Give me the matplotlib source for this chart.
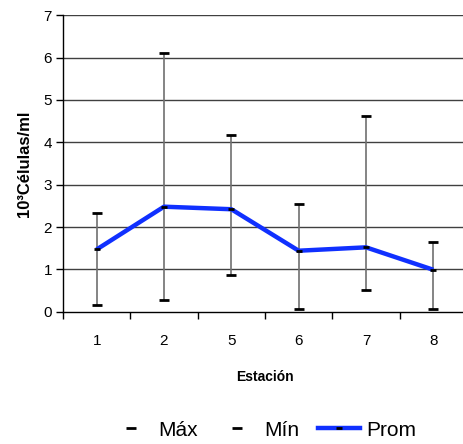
import matplotlib
matplotlib.use("Agg")
import matplotlib.pyplot as plt
from matplotlib.lines import Line2D
import numpy as np

plt.rcParams['font.family'] = ['Liberation Sans', 'DejaVu Sans']

estaciones = ["1", "2", "5", "6", "7", "8"]
maximo = [2.34, 6.10, 4.18, 2.55, 4.63, 1.65]
minimo = [0.17, 0.28, 0.87, 0.07, 0.52, 0.07]
promedio = [1.47, 2.48, 2.42, 1.44, 1.52, 0.99]

W, H = 464, 444
fig = plt.figure(figsize=(W / 100, H / 100), dpi=100)
ax = fig.add_axes([63 / W, 1 - 311.7 / H, 404 / W, (311.7 - 15.3) / H])

x = np.arange(len(estaciones))

# horizontal gridlines
for v in range(1, 8):
    ax.axhline(v, color="#404040", lw=1.0, zorder=1)

# high-low lines
ax.vlines(x, minimo, maximo, color="#707070", lw=1.2, zorder=2)
ax.plot(x, maximo, ls="none", marker="_", ms=7, mew=2.0, color="black", zorder=4)
ax.plot(x, minimo, ls="none", marker="_", ms=7, mew=2.0, color="black", zorder=4)

# mean line
ax.plot(x, promedio, color="#1030ff", lw=3.2, solid_capstyle="butt", zorder=3)
ax.plot(x, promedio, ls="none", marker="_", ms=5, mew=2.0, color="black", zorder=5)

ax.set_xlim(-0.5, len(estaciones) - 0.5)
ax.set_ylim(0, 7)
ax.set_yticks(range(0, 8))
ax.tick_params(axis="y", direction="out", length=5, width=1, labelsize=11, pad=3)

ax.set_xticks(x)
ax.set_xticklabels(estaciones)
ax.set_xticks(np.arange(-0.5, len(estaciones), 1.0), minor=True)
ax.tick_params(axis="x", which="major", length=0, labelsize=11, pad=16)
ax.tick_params(axis="x", which="minor", direction="out", length=5, width=1)

for s in ["top", "right"]:
    ax.spines[s].set_visible(False)
ax.spines["left"].set_linewidth(1.0)
ax.spines["bottom"].set_linewidth(1.0)

ax.set_xlabel("Estación", fontsize=10, fontweight="bold", labelpad=16)
ax.set_ylabel("10³Células/ml", fontsize=12, fontweight="bold", labelpad=8)

handles = [
    Line2D([], [], ls="none", marker="_", ms=7, mew=2.0, color="black"),
    Line2D([], [], ls="none", marker="_", ms=7, mew=2.0, color="black"),
    Line2D([], [], color="#1030ff", lw=3.2, marker="_", ms=5, mew=2.0, mec="black"),
]
fig.legend(handles, ["Máx", "Mín", "Prom"], loc="center", bbox_to_anchor=(263 / W, 1 - 430 / H),
           ncol=3, frameon=False, fontsize=15, handlelength=2.0, columnspacing=0.9,
           handletextpad=0.3)

fig.savefig("out.png", dpi=100)
